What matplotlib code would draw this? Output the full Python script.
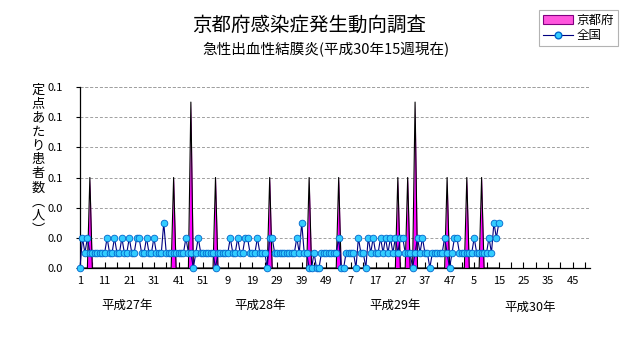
import matplotlib
matplotlib.use("Agg")
import matplotlib.pyplot as plt
from matplotlib.patches import Patch
from matplotlib.lines import Line2D
import numpy as np

plt.rcParams['font.family'] = ['Noto Sans CJK JP', 'DejaVu Sans']

title = "京都府感染症発生動向調査"
subtitle = "急性出血性結膜炎(平成30年15週現在)"
ylabel_chars = ["定", "点", "あ", "た", "り", "患", "者", "数", "︵", "人", "︶"]
years = ["平成27年", "平成28年", "平成29年", "平成30年"]
weeks_per_year = [52, 52, 52, 52]

# 全国 (per sentinel), weeks from H27 week 1 to H30 week 15
zenkoku = [0, .02, .01, .02, .01, .01, .01, .01, .01, .01,
           .01, .02, .01, .01, .02, .01, .01, .02, .01, .01,
           .02, .01, .01, .02, .02, .01, .01, .02, .01, .01,
           .02, .01, .01, .01, .03, .01, .01, .01, .01, .01,
           .01, .01, .01, .02, .01, .01, 0, .01, .02, .01,
           .01, .01, .01, .01, .01, 0, .01, .01, .01, .01,
           .01, .02, .01, .01, .02, .01, .01, .02, .02, .01,
           .01, .01, .02, .01, .01, .01, 0, .02, .02, .01,
           .01, .01, .01, .01, .01, .01, .01, .01, .02, .01,
           .03, .01, .01, 0, 0, .01, 0, 0, .01, .01,
           .01, .01, .01, .01, .01, .02, 0, 0, .01, .01,
           .01, .01, 0, .02, .01, .01, 0, .02, .01, .02,
           .01, .01, .02, .01, .02, .01, .02, .01, .02, .01,
           .02, .02, .01, .01, .01, 0, .01, .02, .01, .02,
           .01, .01, 0, .01, .01, .01, .01, .01, .02, .01,
           0, .01, .02, .02, .01, .01, .01, .01, .01, .01,
           .02, .01, .01, .01, .01, .01, .02, .01, .03, .02, .03]

# 京都府: weeks (index from H27 week 1) with reports, others are 0
kyoto_idx = [4, 38, 45, 55, 77, 93, 105, 129, 133, 136, 149, 157, 163]
kyoto_val = [0.06, 0.06, 0.11, 0.06, 0.06, 0.06, 0.06, 0.06, 0.06, 0.11, 0.06, 0.06, 0.06]

n_total = sum(weeks_per_year)
week_labels = []
for n in weeks_per_year:
    week_labels += [str(w) for w in range(1, n + 1)]

n = len(zenkoku)
x = np.arange(n)
kyoto = np.zeros(n)
kyoto[kyoto_idx] = kyoto_val

fig = plt.figure(figsize=(6.31, 3.47), dpi=100)
ax = fig.add_axes([80/631, 1-268/347, 510/631, 181/347])

ax.fill_between(x, 0, kyoto, color='#FF00FF', linewidth=0, zorder=2)
ax.plot(x, kyoto, color='black', lw=0.8, zorder=3)
ax.plot(x, zenkoku, color='#000080', lw=0.8, marker='o', markersize=4.8,
        markerfacecolor='#33CCFF', markeredgecolor='#0066CC', markeredgewidth=0.6, zorder=4,
        clip_on=False)

ax.set_xlim(0, n_total - 1)
ax.set_ylim(0, 0.12)
ax.set_yticks(np.arange(0, 0.121, 0.02))
ax.yaxis.set_major_formatter(matplotlib.ticker.FormatStrFormatter('%.1f'))
ax.tick_params(axis='y', length=3, width=0.8, pad=9, labelsize=8)

ticks = np.arange(0, n_total, 5)
ax.set_xticks(ticks)
ax.set_xticklabels([week_labels[t] if t % 10 == 0 else '' for t in ticks])
ax.tick_params(axis='x', direction='in', length=4, width=0.8, labelsize=8, pad=6)

ax.grid(axis='y', color='#A0A0A0', linestyle=(0, (3, 2)), linewidth=0.7)
ax.axhline(0.12, color='#A0A0A0', linestyle=(0, (3, 2)), linewidth=0.7)
for s in ['top', 'right']:
    ax.spines[s].set_visible(False)
for s in ['left', 'bottom']:
    ax.spines[s].set_linewidth(0.9)

fig.text(309/631, 1-25/347, title, ha='center', va='center', fontsize=14)
fig.text(326/631, 1-50/347, subtitle, ha='center', va='center', fontsize=10.5)

# vertical y label, one character per row
for i, ch in enumerate(ylabel_chars):
    fig.text(38/631, 1-(90 + 14*i)/347, ch, ha='center', va='center', fontsize=9.5)

for lab, xx, yy in zip(years, [127, 260, 395, 530], [305, 305, 305, 307]):
    fig.text(xx/631, 1-yy/347, lab, ha='center', va='center', fontsize=9)

handles = [Patch(facecolor='#FF55DD', edgecolor='#800080', linewidth=0.8),
           Line2D([0], [0], color='#000080', lw=0.8, marker='o', markersize=4.8,
                  markerfacecolor='#33CCFF', markeredgecolor='#0066CC')]
leg = fig.legend(handles, ['京都府', '全国'], loc='upper right',
                 bbox_to_anchor=(618/631, 1-10/347), fontsize=9, frameon=True,
                 fancybox=False, borderpad=0.3, labelspacing=0.2, handlelength=2.4,
                 handletextpad=0.3, borderaxespad=0)
leg.get_frame().set_edgecolor('#A0A0A0')
leg.get_frame().set_linewidth(0.8)

fig.savefig('out.png', dpi=100)
